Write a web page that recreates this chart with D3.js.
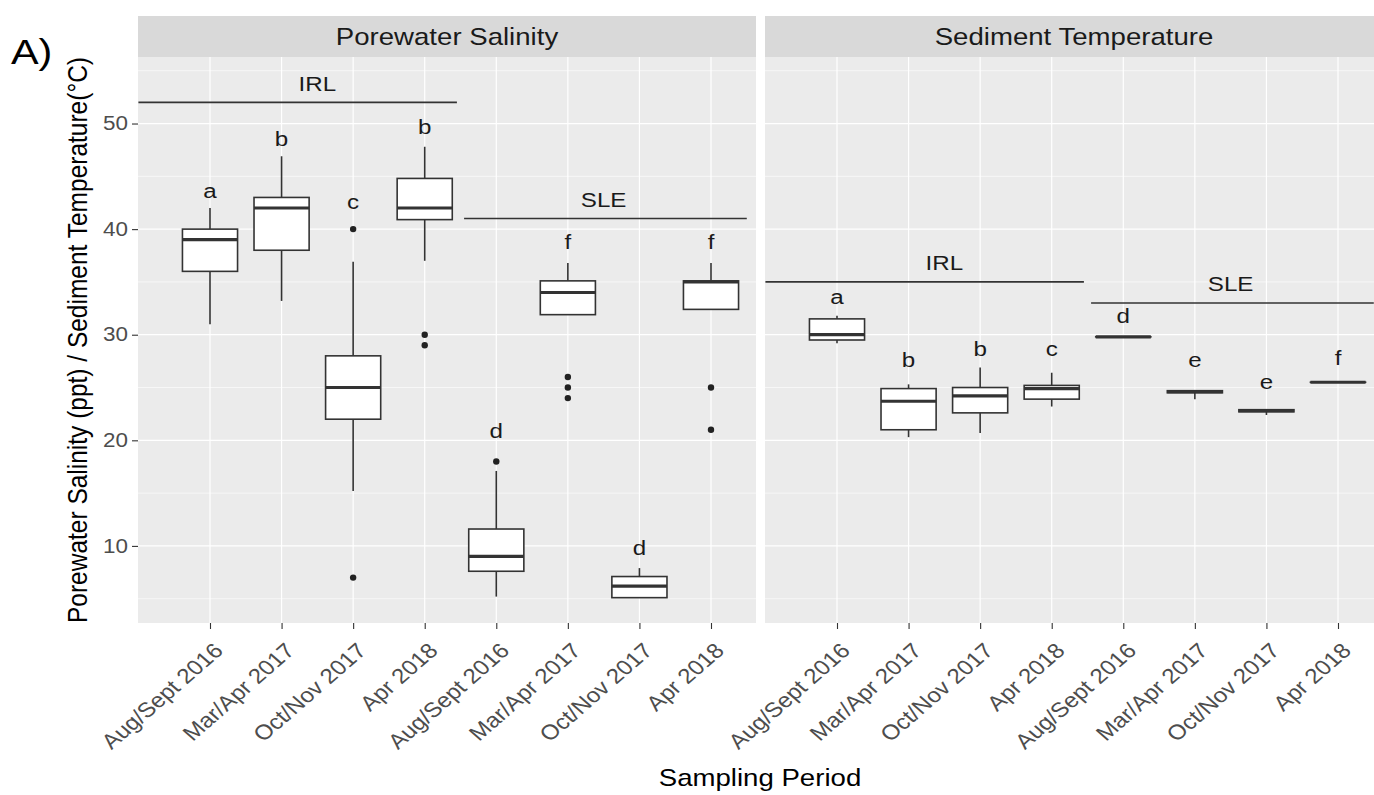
<!DOCTYPE html>
<html>
<head>
<meta charset="utf-8">
<script src="https://cdn.jsdelivr.net/npm/d3@7"></script>
<style>
  body { margin: 0; background: #fff; }
  text { font-family: "Liberation Sans", Arial, sans-serif; }
</style>
</head>
<body>
<script>
var width = 1374,
    height = 795;

// categories (4 periods at IRL, then the same 4 at SLE)
var periods = ["Aug/Sept 2016", "Mar/Apr 2017", "Oct/Nov 2017", "Apr 2018"];
var categories = periods.concat(periods);
var sites = ["IRL", "SLE"];
var yTicks = [10, 20, 30, 40, 50];

// porewater salinity box stats
var salLow  = [31, 33.2, 15.2, 37, 5.2, 31.9, 5.1, 32.4];
var salQ1   = [36, 38, 22, 40.9, 7.6, 31.9, 5.1, 32.4];
var salMed  = [39, 42, 25, 42, 9, 34, 6.2, 35];
var salQ3   = [40, 43, 28, 44.8, 11.6, 35.1, 7.1, 35.1];
var salHigh = [42, 46.9, 36.9, 47.8, 17.1, 36.8, 7.9, 36.8];
var salOut  = [[], [], [40, 7], [30, 29], [18], [26, 25, 24], [], [25, 21]];
var salLetters = ["a", "b", "c", "b", "d", "f", "d", "f"];
var salLetterY = [43.6, 48.6, 42.6, 49.7, 20.9, 38.8, 9.8, 38.8];
var salSiteY = [52, 41];

// sediment temperature box stats
var tmpLow  = [29.2, 20.3, 20.7, 23.2, 29.8, 23.9, 22.4, 25.5];
var tmpQ1   = [29.5, 21, 22.6, 23.9, 29.8, 24.5, 22.7, 25.5];
var tmpMed  = [30, 23.7, 24.2, 24.9, 29.8, 24.6, 22.8, 25.5];
var tmpQ3   = [31.5, 24.9, 25, 25.2, 29.8, 24.7, 22.9, 25.5];
var tmpHigh = [31.8, 25.3, 26.9, 26.4, 29.8, 24.7, 22.9, 25.5];
var tmpOut  = [[], [], [], [], [], [], [], []];
var tmpLetters = ["a", "b", "b", "c", "d", "e", "e", "f"];
var tmpLetterY = [33.6, 27.6, 28.7, 28.7, 31.8, 27.6, 25.6, 27.8];
var tmpSiteY = [35, 33];

// site bracket extents, in category positions (1-based like ggplot)
var siteFrom = [0, 4.55],
    siteTo = [4.45, 8.5],
    siteLabelX = [2.5, 6.5];

var panels = [
  { title: "Porewater Salinity", left: 138, low: salLow, q1: salQ1, med: salMed, q3: salQ3, high: salHigh,
    out: salOut, letters: salLetters, letterY: salLetterY, siteY: salSiteY },
  { title: "Sediment Temperature", left: 765, low: tmpLow, q1: tmpQ1, med: tmpMed, q3: tmpQ3, high: tmpHigh,
    out: tmpOut, letters: tmpLetters, letterY: tmpLetterY, siteY: tmpSiteY }
];

var panelW = 618,
    stripTop = 16,
    panelTop = 57,
    panelBottom = 623,
    sx = 1.15;   // the figure is stretched sideways, so is its lettering

var svg = d3.select("body").append("svg")
    .attr("width", width)
    .attr("height", height);

// horizontal text, widened like the original
function wide(sel, fx, fy) {
  sel.attr("x", 0).attr("y", 0)
     .attr("transform", function(d, i) {
       return "translate(" + fx(d, i) + "," + fy(d, i) + ") scale(" + sx + ",1)";
     });
}

var y = d3.scaleLinear()
    .domain([2.7, 56.3])
    .range([panelBottom, panelTop]);

var minorY = d3.range(5, 60, 10);

panels.forEach(function(p, pi) {
  var g = svg.append("g");
  var x = d3.scalePoint()
      .domain(d3.range(categories.length))
      .range([p.left + 72, p.left + 573]);
  var step = x.step();
  // linear version of the same axis for segments (position 1 = first category)
  var xl = d3.scaleLinear().domain([1, 8]).range(x.range());
  var bw = step * 0.77;

  var clipId = "clip" + pi;
  svg.append("clipPath").attr("id", clipId)
    .append("rect")
      .attr("x", p.left).attr("y", panelTop)
      .attr("width", panelW).attr("height", panelBottom - panelTop);

  // strip
  g.append("rect")
      .attr("x", p.left).attr("y", stripTop)
      .attr("width", panelW).attr("height", panelTop - stripTop)
      .style("fill", "#d9d9d9");
  g.append("text")
      .attr("dy", ".35em")
      .attr("text-anchor", "middle")
      .style("font-size", "24px")
      .style("fill", "#1a1a1a")
      .text(p.title)
      .call(wide, function() { return p.left + panelW / 2; }, function() { return (stripTop + panelTop) / 2; });

  var body = g.append("g").attr("clip-path", "url(#" + clipId + ")");
  body.append("rect")
      .attr("x", p.left).attr("y", panelTop)
      .attr("width", panelW).attr("height", panelBottom - panelTop)
      .style("fill", "#ebebeb");

  body.selectAll(".minor").data(minorY).enter().append("line")
      .attr("x1", p.left).attr("x2", p.left + panelW)
      .attr("y1", function(d) { return y(d); })
      .attr("y2", function(d) { return y(d); })
      .style("stroke", "#fff").style("stroke-width", 0.6);
  body.selectAll(".major").data(yTicks).enter().append("line")
      .attr("x1", p.left).attr("x2", p.left + panelW)
      .attr("y1", function(d) { return y(d); })
      .attr("y2", function(d) { return y(d); })
      .style("stroke", "#fff").style("stroke-width", 1.2);
  body.selectAll(".vgrid").data(x.domain()).enter().append("line")
      .attr("x1", function(d) { return x(d); })
      .attr("x2", function(d) { return x(d); })
      .attr("y1", panelTop).attr("y2", panelBottom)
      .style("stroke", "#fff").style("stroke-width", 1.2);

  // boxes
  var idx = d3.range(categories.length);
  var box = body.selectAll(".box").data(idx).enter().append("g");
  box.append("line")
      .attr("x1", function(i) { return x(i); })
      .attr("x2", function(i) { return x(i); })
      .attr("y1", function(i) { return y(p.q3[i]); })
      .attr("y2", function(i) { return y(p.high[i]); });
  box.append("line")
      .attr("x1", function(i) { return x(i); })
      .attr("x2", function(i) { return x(i); })
      .attr("y1", function(i) { return y(p.q1[i]); })
      .attr("y2", function(i) { return y(p.low[i]); });
  box.selectAll("line")
      .style("stroke", "#333").style("stroke-width", 1.6);
  box.append("rect")
      .attr("x", function(i) { return x(i) - bw / 2; })
      .attr("width", bw)
      .attr("y", function(i) { return y(p.q3[i]); })
      .attr("height", function(i) { return Math.max(0.01, y(p.q1[i]) - y(p.q3[i])); })
      .style("fill", "#fff").style("stroke", "#333").style("stroke-width", 1.6);
  box.append("line")
      .attr("x1", function(i) { return x(i) - bw / 2; })
      .attr("x2", function(i) { return x(i) + bw / 2; })
      .attr("y1", function(i) { return y(p.med[i]); })
      .attr("y2", function(i) { return y(p.med[i]); })
      .style("stroke", "#333").style("stroke-width", 3.2);

  box.each(function(i) {
    d3.select(this).selectAll("circle").data(p.out[i]).enter().append("circle")
        .attr("cx", x(i))
        .attr("cy", function(d) { return y(d); })
        .attr("r", 3.2)
        .style("fill", "#222");
  });

  body.selectAll(".letter").data(idx).enter().append("text")
      .attr("dy", ".35em")
      .attr("text-anchor", "middle")
      .style("font-size", "21px")
      .style("fill", "#1a1a1a")
      .text(function(i) { return p.letters[i]; })
      .call(wide, function(i) { return x(i); }, function(i) { return y(p.letterY[i]); });

  // site brackets
  body.selectAll(".site").data(sites).enter().append("line")
      .attr("x1", function(d, i) { return xl(siteFrom[i]); })
      .attr("x2", function(d, i) { return xl(siteTo[i]); })
      .attr("y1", function(d, i) { return y(p.siteY[i]); })
      .attr("y2", function(d, i) { return y(p.siteY[i]); })
      .style("stroke", "#333").style("stroke-width", 1.6);
  body.selectAll(".sitelab").data(sites).enter().append("text")
      .attr("dy", ".35em")
      .attr("text-anchor", "middle")
      .style("font-size", "21px")
      .style("fill", "#1a1a1a")
      .text(function(d) { return d; })
      .call(wide, function(d, i) { return xl(siteLabelX[i]); }, function(d, i) { return y(p.siteY[i] + 1.8); });

  // x axis
  var xAxis = g.append("g")
      .attr("transform", "translate(0," + panelBottom + ")")
      .call(d3.axisBottom(x).tickSize(6).tickFormat(function(i) { return categories[i]; }));
  xAxis.select(".domain").remove();
  xAxis.selectAll(".tick line").style("stroke", "#333").style("stroke-width", 1.1);
  xAxis.selectAll(".tick text")
      .attr("x", 0).attr("y", 0).attr("dy", 0)
      .attr("transform", "translate(14,29) scale(" + sx + ",1) rotate(-45)")
      .attr("text-anchor", "end")
      .style("font-family", "Liberation Sans, Arial, sans-serif")
      .style("font-size", "21px")
      .style("fill", "#4d4d4d");

  if (pi === 0) {
    var yAxis = g.append("g")
        .attr("transform", "translate(" + p.left + ",0)")
        .call(d3.axisLeft(y).tickValues(yTicks).tickSize(6).tickPadding(4));
    yAxis.select(".domain").remove();
    yAxis.selectAll(".tick line").style("stroke", "#333").style("stroke-width", 1.1);
    yAxis.selectAll(".tick text")
        .attr("x", 0)
        .attr("transform", "translate(-10,0) scale(" + sx + ",1)")
        .style("font-family", "Liberation Sans, Arial, sans-serif")
        .style("font-size", "19.5px")
        .style("fill", "#4d4d4d");
  }
});

// titles
svg.append("text")
    .attr("transform", "translate(87," + ((panelTop + panelBottom) / 2) + ") scale(" + sx + ",1) rotate(-90)")
    .attr("text-anchor", "middle")
    .style("font-size", "24.5px")
    .style("fill", "#000")
    .text("Porewater Salinity (ppt) / Sediment Temperature(\u00B0C)");

svg.append("text")
    .attr("text-anchor", "middle")
    .style("font-size", "24px")
    .style("fill", "#000")
    .text("Sampling Period")
    .call(wide, function() { return 760; }, function() { return 786; });

svg.append("text")
    .style("font-size", "36px")
    .style("fill", "#000")
    .text("A)")
    .call(wide, function() { return 11; }, function() { return 64; });
</script>
</body>
</html>
